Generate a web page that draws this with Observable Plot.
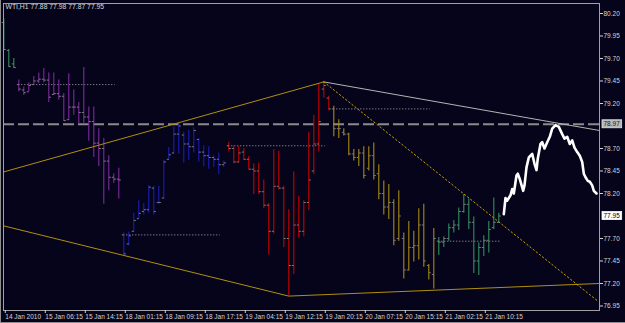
<!DOCTYPE html>
<html><head><meta charset="utf-8">
<script src="https://cdn.jsdelivr.net/npm/d3@7"></script>
<script src="https://cdn.jsdelivr.net/npm/@observablehq/plot@0.6"></script>
<style>
html,body{margin:0;padding:0;background:#06041a;}
#chart{position:relative;width:625px;height:323px;overflow:hidden;}
#chart svg{display:block;}
#edge{position:absolute;left:0;top:0;width:624px;height:322px;border-left:1px solid #8c8c8c;border-bottom:1px solid #8c8c8c;pointer-events:none;}
</style></head><body><div id="chart"><div id="edge"></div></div><script>
const symbol = "WTI", timeframe = "H1";
const opens  = [80.10,79.79,79.64,79.41,79.35,79.33,79.41,79.45,79.47,79.46,79.30,79.31,79.28,79.02,79.16,79.16,79.10,79.05,79.00,78.76,78.70,78.56,78.38,78.36,
  77.74,77.64,77.78,77.92,78.00,78.02,78.26,78.10,78.15,78.58,78.65,78.86,78.85,78.75,78.72,78.80,78.66,78.62,78.60,78.58,78.52,
  78.73,78.70,78.55,78.66,78.58,78.47,78.45,78.22,78.07,77.78,78.28,78.26,77.70,77.40,77.85,77.78,78.10,78.45,78.75,79.36,79.26,
  79.14,78.92,78.88,78.86,78.64,78.60,78.65,78.48,78.62,78.42,78.20,78.05,78.10,77.70,77.70,77.35,77.60,77.62,77.85,77.40,77.30,
  77.67,77.66,77.70,77.82,77.85,78.00,78.08,77.88,77.45,77.60,77.68,77.82,77.88];
const highs  = [80.14,79.80,79.70,79.46,79.38,79.43,79.50,79.54,79.59,79.54,79.54,79.46,79.31,79.53,79.35,79.21,79.60,79.16,79.16,78.92,78.81,78.62,78.42,78.48,
  77.76,77.77,77.98,78.12,78.09,78.29,78.28,78.28,78.57,78.71,78.94,78.98,78.88,78.90,78.93,78.81,78.73,78.72,78.62,78.65,78.56,
  78.77,78.73,78.72,78.70,78.61,78.53,78.54,78.35,78.09,78.69,78.67,78.28,78.02,78.44,78.17,78.12,78.88,79.07,79.42,79.44,79.28,
  79.17,79.02,78.92,78.87,78.69,78.69,78.72,78.72,78.76,78.52,78.34,78.30,78.13,78.23,77.76,77.89,77.78,78.03,78.08,77.41,77.81,
  77.71,77.72,77.86,77.90,78.04,78.19,78.14,77.94,77.65,77.73,77.89,78.15,77.98];
const lows   = [79.79,79.60,79.59,79.33,79.29,79.33,79.40,79.42,79.43,79.21,79.29,79.24,79.00,79.01,79.07,78.97,78.97,78.78,78.60,78.50,78.08,78.23,78.31,78.14,
  77.51,77.62,77.77,77.92,77.96,77.98,77.96,78.08,78.14,78.57,78.64,78.64,78.54,78.57,78.65,78.55,78.50,78.47,78.49,78.41,78.49,
  78.66,78.53,78.54,78.57,78.46,78.19,78.19,78.03,77.52,77.75,78.24,77.60,77.06,77.30,77.70,77.72,78.01,78.41,78.66,79.26,79.12,
  78.83,78.81,78.84,78.62,78.56,78.50,78.36,78.45,78.35,78.13,77.96,77.91,77.62,77.67,77.25,77.34,77.44,77.46,77.38,77.24,77.14,
  77.51,77.60,77.67,77.76,77.79,77.98,77.80,77.31,77.29,77.50,77.54,77.80,77.87];
const closes = [79.80,79.61,79.60,79.36,79.32,79.40,79.45,79.47,79.46,79.27,79.31,79.28,79.01,79.16,79.16,79.10,79.05,79.00,78.76,78.70,78.56,78.38,78.36,78.35,
  77.53,77.73,77.90,77.98,78.02,78.27,78.00,78.10,78.55,78.63,78.86,78.95,78.75,78.72,78.90,78.66,78.62,78.60,78.58,78.52,78.54,
  78.70,78.55,78.65,78.58,78.47,78.45,78.22,78.07,77.78,78.28,78.26,77.70,77.40,77.85,77.78,78.10,78.35,78.75,79.00,79.40,79.14,
  78.92,78.92,78.86,78.64,78.60,78.65,78.40,78.62,78.40,78.20,78.05,78.10,77.68,77.95,77.35,77.60,77.62,77.85,77.45,77.32,77.70,
  77.66,77.70,77.82,77.85,78.00,78.08,77.88,77.45,77.60,77.68,77.80,77.88,77.95];
const dayStart  = [0, 3, 24, 45, 66, 87];
const dayColors = ["#2f8f5c", "#7e2a9c", "#1c1cb8", "#c80000", "#a88a12", "#2f8f5c"];
const xTickIndex  = [0, 8, 16, 24, 32, 40, 48, 56, 64, 72, 80, 88, 96];
const xTickLabels = ["14 Jan 2010","15 Jan 06:15","15 Jan 14:15","18 Jan 01:15","18 Jan 09:15","18 Jan 17:15","19 Jan 04:15","19 Jan 12:15","19 Jan 20:15","20 Jan 07:15","20 Jan 15:15","21 Jan 02:15","21 Jan 10:15"];
const yTickValues = [80.20, 79.95, 79.70, 79.45, 79.20, 78.70, 78.45, 78.20, 77.70, 77.45, 77.20, 76.95];
const levelPrice = [78.97];
const upperTrendIdx = [0, 64],        upperTrendPrice = [78.44, 79.44];
const lowerTrendIdx = [0, 57, 119.1], lowerTrendPrice = [77.84, 77.06, 77.20];
const resistIdx     = [64, 119.1],    resistPrice     = [79.44, 78.90];
const channelIdx    = [64, 118.9],    channelPrice    = [79.44, 77.00];
const projIdx   = [100,100.34,100.68,101.34,101.68,102,102.54,102.8,103.2,103.88,104.14,104.54,105,105.68,106.14,106.54,106.8,107.34,107.68,108.14,108.68,109.2,109.68,110.34,111,111.68,112.14,112.68,113.2,113.68,114.14,114.68,115.2,115.68,116,116.34,116.8,117.2,117.68,118,118.54];
const projPrice = [77.97,78.15,78.12,78.18,78.25,78.20,78.40,78.42,78.36,78.23,78.29,78.49,78.60,78.64,78.53,78.46,78.59,78.75,78.77,78.70,78.77,78.83,78.92,78.96,78.94,78.86,78.81,78.83,78.75,78.79,78.71,78.66,78.62,78.55,78.42,78.38,78.34,78.33,78.29,78.23,78.20];

const n = highs.length;
const bars = d3.range(n).map(i => {
  const day = d3.bisectRight(dayStart, i) - 1;
  return {i, o: opens[i], h: highs[i], l: lows[i], c: closes[i], day, color: dayColors[day]};
});
const dayLines = dayStart.slice(1).map((s, k) => {
  const d = k + 1;
  const last = (d + 1 < dayStart.length ? dayStart[d + 1] : n) - 1;
  return {x1: s - 0.1, x2: d + 1 < dayStart.length ? last - 0.8 : last + 0.2, p: opens[s]};
});
const pts = (xs, ys) => xs.map((x, k) => ({x, y: ys[k]}));
const title = `${symbol},${timeframe} ${opens[n-1].toFixed(2)} ${highs[n-1].toFixed(2)} ${lows[n-1].toFixed(2)} ${closes[n-1].toFixed(2)}`;
const font = 6.5;
const levelLabel = levelPrice[0].toFixed(2), lastLabel = closes[n-1].toFixed(2);

const chart = Plot.plot({
  width: 625, height: 323,
  marginLeft: 3, marginRight: 26, marginTop: 3, marginBottom: 13,
  style: {background: "#06041a", color: "#d4d4d4", fontFamily: "Liberation Sans, Arial, sans-serif", overflow: "visible"},
  x: {domain: [-0.06, 119.14]},
  y: {domain: [76.90, 80.311]},
  color: {type: "identity"},
  marks: [
    Plot.ruleY(levelPrice, {y: d => d, stroke: "#8a8a8a", strokeWidth: 2, strokeDasharray: "11,4"}),
    Plot.link(dayLines, {x1: "x1", x2: "x2", y1: "p", y2: "p", stroke: "#aaaaaa", strokeDasharray: "1,2"}),
    Plot.ruleX(bars, {x: "i", y1: "l", y2: "h", stroke: "color", strokeWidth: 1.1}),
    Plot.link(bars, {x1: d => d.i - 0.4, x2: "i", y1: "o", y2: "o", stroke: "#7c7c7c"}),
    Plot.link(bars, {x1: "i", x2: d => d.i + 0.4, y1: "c", y2: "c", stroke: "#7c7c7c"}),
    Plot.line(pts(upperTrendIdx, upperTrendPrice), {x: "x", y: "y", stroke: "#b0900e", strokeWidth: 1}),
    Plot.line(pts(lowerTrendIdx, lowerTrendPrice), {x: "x", y: "y", stroke: "#b0900e", strokeWidth: 1}),
    Plot.line(pts(resistIdx, resistPrice), {x: "x", y: "y", stroke: "#b4b4b4", strokeWidth: 1}),
    Plot.line(pts(channelIdx, channelPrice), {x: "x", y: "y", stroke: "#c8a000", strokeWidth: 1, strokeDasharray: "1.5,2.5"}),
    Plot.line(pts(projIdx, projPrice), {x: "x", y: "y", stroke: "#ffffff", strokeWidth: 2.6, strokeLinejoin: "round"}),
    Plot.frame({stroke: "#a0a0a0"}),
    Plot.axisY(yTickValues, {anchor: "right", tickSize: 3, tickPadding: 1, fontSize: font, tickFormat: d => d.toFixed(2)}),
    Plot.axisX(xTickIndex, {anchor: "bottom", tickSize: 3, tickPadding: 0.5, fontSize: font, textAnchor: "start", dx: 1.5, tickFormat: d => xTickLabels[xTickIndex.indexOf(d)]}),
    Plot.text(levelPrice, {y: d => d, frameAnchor: "right", dx: 4, textAnchor: "start", text: d => d.toFixed(2), fill: "#1a1a1a", fontSize: font}),
    Plot.text([closes[n-1]], {y: d => d, frameAnchor: "right", dx: 4, textAnchor: "start", text: d => d.toFixed(2), fill: "#000000", fontSize: font}),
    Plot.text([title], {frameAnchor: "top-left", dx: 2, dy: 1, textAnchor: "start", lineAnchor: "top", fill: "#d8d8d8", fontSize: 6.8})
  ]
});
document.getElementById("chart").prepend(chart);

function boxes(label, fill, stroke) {
  Array.from(chart.querySelectorAll("text")).filter(t => t.textContent === label).forEach(t => {
    const b = t.getBBox();
    const r = document.createElementNS("http://www.w3.org/2000/svg", "rect");
    r.setAttribute("x", b.x - 1.5); r.setAttribute("y", b.y - 0.5);
    r.setAttribute("width", b.width + 3); r.setAttribute("height", b.height + 1);
    r.setAttribute("fill", fill); r.setAttribute("stroke", stroke); r.setAttribute("stroke-width", 0.8);
    if (t.getAttribute("transform")) r.setAttribute("transform", t.getAttribute("transform"));
    t.parentNode.insertBefore(r, t);
  });
}
boxes(levelLabel, "#b8b8b8", "#e0e0e0");
boxes(lastLabel, "#ffffff", "#ffffff");
</script></body></html>
